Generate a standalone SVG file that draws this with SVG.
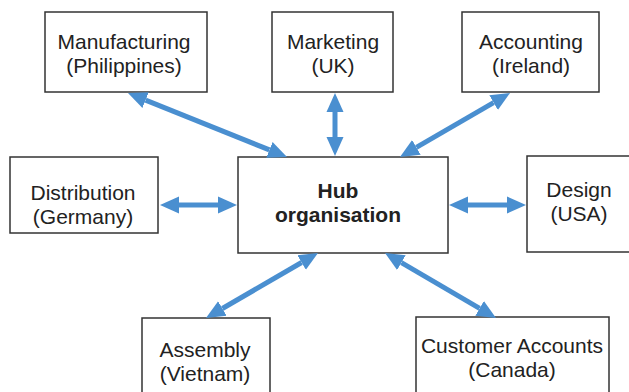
<svg xmlns="http://www.w3.org/2000/svg" width="629" height="392" viewBox="0 0 629 392">
<style>
.box{fill:#fff;stroke:#333;stroke-width:1.5}
.t{font-family:"Liberation Sans",Arial,sans-serif;font-size:21px;fill:#222;text-anchor:middle}
.b{font-weight:bold}
.c{stroke:#4a8fd0;stroke-width:5;fill:none;marker-start:url(#ah);marker-end:url(#ah)}
</style>
<defs>
<marker id="ah" markerUnits="userSpaceOnUse" markerWidth="19" markerHeight="18" refX="0" refY="8.5" orient="auto-start-reverse" viewBox="0 0 19 17">
<path d="M0,0 L19,8.5 L0,17 z" fill="#4a8fd0"/>
</marker>
</defs>
<rect width="629" height="392" fill="#fff"/>
<g id="manufacturing"><rect class="box" x="45" y="12" width="162" height="80"/><text class="t" x="124" y="49">Manufacturing</text><text class="t" x="124" y="73">(Philippines)</text></g>
<g id="marketing"><rect class="box" x="272" y="12" width="121" height="80"/><text class="t" x="333" y="49">Marketing</text><text class="t" x="333" y="73">(UK)</text></g>
<g id="accounting"><rect class="box" x="462" y="12" width="137" height="80"/><text class="t" x="531" y="49">Accounting</text><text class="t" x="531" y="73">(Ireland)</text></g>
<g id="distribution"><rect class="box" x="10" y="157" width="148" height="76"/><text class="t" x="83" y="200">Distribution</text><text class="t" x="83" y="224">(Germany)</text></g>
<g id="hub"><rect class="box" x="238" y="157" width="210" height="96"/><text class="t b" x="338" y="198">Hub</text><text class="t b" x="338" y="222">organisation</text></g>
<g id="design"><rect class="box" x="527" y="156" width="104" height="96"/><text class="t" x="579" y="197">Design</text><text class="t" x="579" y="221">(USA)</text></g>
<g id="assembly"><rect class="box" x="142" y="318" width="128" height="80"/><text class="t" x="205" y="357">Assembly</text><text class="t" x="205" y="381">(Vietnam)</text></g>
<g id="customer"><rect class="box" x="416" y="317" width="193" height="80"/><text class="t" x="512" y="353">Customer Accounts</text><text class="t" x="512" y="377">(Canada)</text></g>
<g id="connectors">
<line class="c" x1="145.6" y1="100.1" x2="269.4" y2="149.9"/>
<line class="c" x1="335" y1="112" x2="335" y2="137"/>
<line class="c" x1="493.6" y1="102.6" x2="416.4" y2="147.4"/>
<line class="c" x1="179" y1="205" x2="218" y2="205"/>
<line class="c" x1="468" y1="205" x2="507" y2="205"/>
<line class="c" x1="222.4" y1="308.5" x2="301.6" y2="262.5"/>
<line class="c" x1="401.4" y1="262.6" x2="479.6" y2="308.4"/>
</g>
</svg>
